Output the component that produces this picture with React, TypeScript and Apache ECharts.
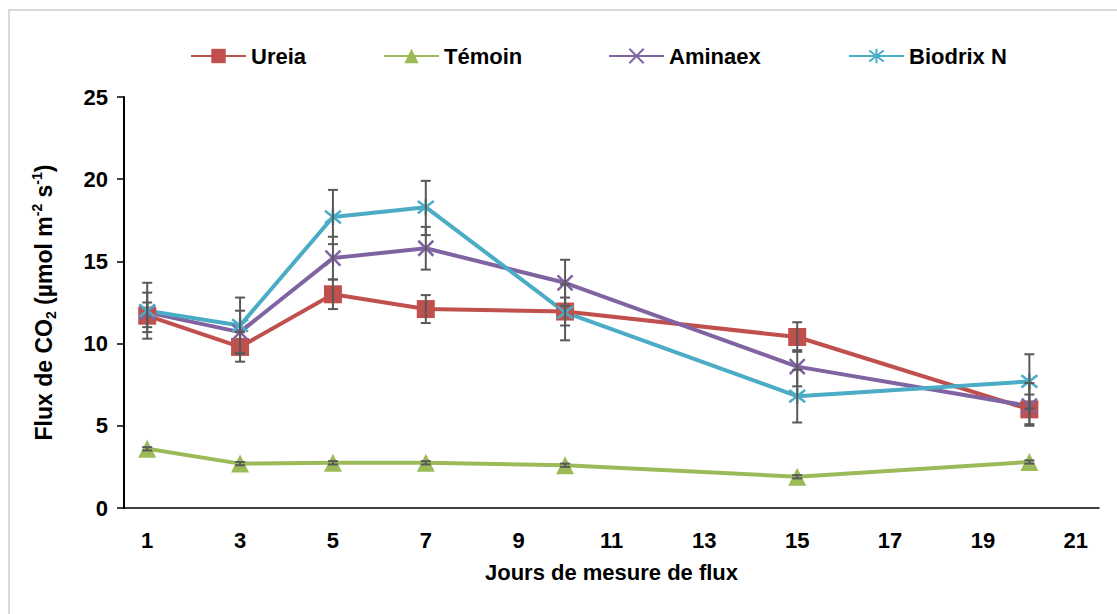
import React, { useEffect, useRef } from "react";
import * as echarts from "echarts";

const days = [1, 3, 5, 7, 10, 15, 20];
const xTickLabels = [1, 3, 5, 7, 9, 11, 13, 15, 17, 19, 21];

const ureia = [11.7, 9.8, 13.0, 12.1, 11.95, 10.4, 6.0];
const ureiaLow = [11.0, 8.9, 12.1, 11.25, 11.1, 9.5, 5.0];
const ureiaHigh = [12.5, 10.7, 13.9, 12.95, 12.8, 11.3, 6.9];

const temoin = [3.6, 2.7, 2.75, 2.75, 2.6, 1.9, 2.8];
const temoinLow = [3.5, 2.6, 2.65, 2.65, 2.5, 1.8, 2.7];
const temoinHigh = [3.7, 2.8, 2.85, 2.85, 2.7, 2.0, 2.9];

const aminaex = [11.9, 10.7, 15.2, 15.8, 13.7, 8.6, 6.2];
const aminaexLow = [10.7, 9.4, 13.9, 14.5, 12.3, 7.4, 5.1];
const aminaexHigh = [13.1, 12.0, 16.5, 17.1, 15.1, 9.6, 7.6];

const biodrix = [12.0, 11.1, 17.7, 18.3, 11.9, 6.8, 7.7];
const biodrixLow = [10.3, 9.4, 16.05, 16.6, 10.2, 5.2, 6.05];
const biodrixHigh = [13.7, 12.8, 19.35, 19.9, 13.6, 8.4, 9.35];

const names = ["Ureia", "Témoin", "Aminaex", "Biodrix N"];
const colors = ["#C0504D", "#9BBB59", "#8064A2", "#4BACC6"];

const FONT = "'Liberation Sans', Arial, sans-serif";

export default function App() {
  const ref = useRef<HTMLDivElement>(null);

  useEffect(() => {
    if (!ref.current) return;
    const chart = echarts.init(ref.current, undefined, { renderer: "svg" });

    const pairs = (ys: number[]) => days.map((d, i) => [d, ys[i]]);
    const errData = (lo: number[], hi: number[]) => days.map((d, i) => [d, lo[i], hi[i]]);

    const allErr = [
      ...errData(ureiaLow, ureiaHigh),
      ...errData(temoinLow, temoinHigh),
      ...errData(aminaexLow, aminaexHigh),
      ...errData(biodrixLow, biodrixHigh),
    ];

    const xPath = "path://M0,0L10,10M10,0L0,10";
    const starPath = "path://M0,0L10,10M10,0L0,10M5,-1.5L5,11.5";

    const lineSeries = (name: string, data: number[], color: string, symbol: string, size: number) => ({
      type: "line",
      name,
      data: pairs(data),
      symbol,
      symbolSize: size,
      showAllSymbol: true,
      lineStyle: { color, width: 4 },
      itemStyle: { color, borderColor: color, borderWidth: symbol.startsWith("path") ? 2.5 : 0 },
      z: 3,
    });

    const legendLefts = [185, 378, 603, 843];

    chart.setOption({
      animation: false,
      backgroundColor: "#ffffff",
      graphic: [
        {
          type: "rect",
          shape: { x: 9, y: 10, width: 1130, height: 640 },
          style: { fill: "none", stroke: "#D9D9D9", lineWidth: 2 },
          silent: true,
        },
      ],
      legend: names.map((n, i) => ({
        data: [n],
        left: legendLefts[i],
        top: 40,
        itemWidth: 55,
        itemHeight: 18,
        textStyle: { fontFamily: FONT, fontWeight: "bold", fontSize: 22, color: "#000" },
      })),
      grid: { left: 124, right: 18, top: 97, bottom: 106 },
      xAxis: {
        type: "value",
        min: 0.5,
        max: 21.5,
        name: "Jours de mesure de flux",
        nameLocation: "middle",
        nameGap: 53,
        nameTextStyle: { fontFamily: FONT, fontWeight: "bold", fontSize: 22, color: "#000" },
        axisLine: { show: true, lineStyle: { color: "#000", width: 1.5 } },
        axisTick: { show: false },
        splitLine: { show: false },
        axisLabel: {
          customValues: xTickLabels,
          margin: 21,
          fontFamily: FONT,
          fontWeight: "bold",
          fontSize: 22,
          color: "#000",
        },
      },
      yAxis: {
        type: "value",
        min: 0,
        max: 25,
        interval: 5,
        name: "Flux de CO{sub|2} (µmol m{sup|-2} s{sup|-1})",
        nameLocation: "middle",
        nameGap: 66,
        nameTextStyle: {
          fontFamily: FONT,
          fontWeight: "bold",
          fontSize: 23,
          color: "#000",
          lineHeight: 28,
          rich: {
            sub: { fontFamily: FONT, fontWeight: "bold", fontSize: 14, color: "#000", verticalAlign: "bottom", lineHeight: 28 },
            sup: { fontFamily: FONT, fontWeight: "bold", fontSize: 14, color: "#000", verticalAlign: "top", lineHeight: 28 },
          },
        },
        axisLine: { show: true, lineStyle: { color: "#000", width: 2 } },
        axisTick: { show: true, inside: false, length: 7, lineStyle: { color: "#000", width: 1.5 } },
        splitLine: { show: false },
        axisLabel: { margin: 16, fontFamily: FONT, fontWeight: "bold", fontSize: 22, color: "#000" },
      },
      series: [
        lineSeries(names[0], ureia, colors[0], "rect", 18),
        lineSeries(names[1], temoin, colors[1], "triangle", 18),
        lineSeries(names[2], aminaex, colors[2], xPath, 15),
        lineSeries(names[3], biodrix, colors[3], starPath, 16),
        {
          type: "custom",
          name: "err",
          data: allErr,
          encode: { x: 0, y: [1, 2] },
          z: 4,
          silent: true,
          renderItem: (params: any, api: any) => {
            const x = api.value(0);
            const lo = api.coord([x, api.value(1)]);
            const hi = api.coord([x, api.value(2)]);
            const w = 5;
            const st = { stroke: "#595959", lineWidth: 2 };
            return {
              type: "group",
              children: [
                { type: "line", shape: { x1: lo[0], y1: lo[1], x2: hi[0], y2: hi[1] }, style: st },
                { type: "line", shape: { x1: lo[0] - w, y1: lo[1], x2: lo[0] + w, y2: lo[1] }, style: st },
                { type: "line", shape: { x1: hi[0] - w, y1: hi[1], x2: hi[0] + w, y2: hi[1] }, style: st },
              ],
            };
          },
        },
      ],
    });

    return () => chart.dispose();
  }, []);

  return (
    <div
      ref={ref}
      style={{ position: "fixed", left: 0, top: 0, width: 1117, height: 614, background: "#fff" }}
    />
  );
}
